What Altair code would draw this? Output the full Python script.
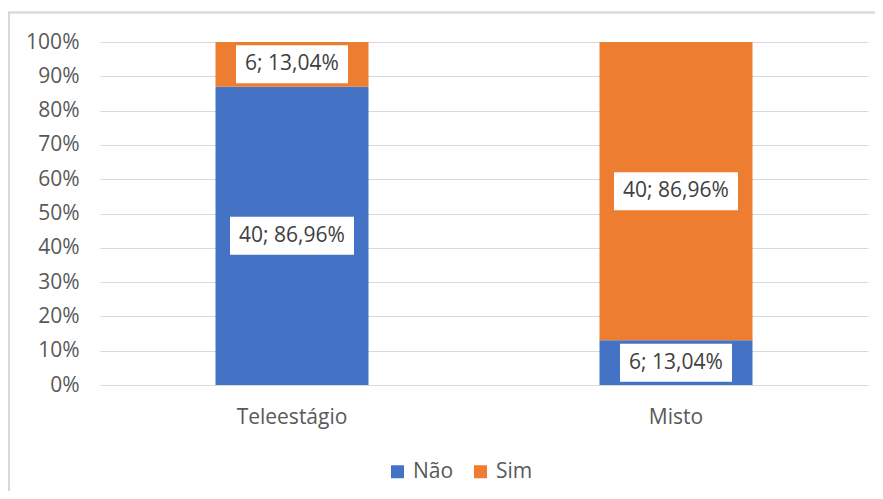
import altair as alt
import pandas as pd

categories = ["Teleestágio", "Misto"]
nao_counts = [40, 6]
sim_counts = [6, 40]
series = ["Não", "Sim"]
colors = ["#4472c4", "#ed7d31"]

rows = []
for cat, n, s in zip(categories, nao_counts, sim_counts):
    total = n + s
    lo = 0.0
    for name, c in zip(series, [n, s]):
        frac = c / total
        label = f"{c}; {frac*100:.2f}%".replace(".", ",")
        w = 12 * len(label) + 4
        hx = (w / 2) / 62
        hy = 19 / 62
        path = f"M{-hx},{-hy}L{hx},{-hy}L{hx},{hy}L{-hx},{hy}Z"
        rows.append({"cat": cat, "serie": name, "lo": lo, "hi": lo + frac,
                     "mid": lo + frac / 2, "label": label, "box": path})
        lo += frac
df = pd.DataFrame(rows)

FONT = "Open Sans"
FS = 21

yscale = alt.Scale(domain=[0, 1], nice=False)
xscale = alt.Scale(paddingInner=0, paddingOuter=0)

xaxis = alt.Axis(labelAngle=0, labelFontSize=FS, labelColor="#595959",
                 labelFont=FONT, ticks=False, domain=False,
                 labelPadding=38, labelBaseline="alphabetic")
yaxis = alt.Axis(format="%", tickCount=10, labelOverlap=False,
                 labelFontSize=FS, labelColor="#595959", labelFont=FONT,
                 ticks=False, domain=False, labelPadding=21,
                 gridColor="#d9d9d9", gridWidth=1)

bars = alt.Chart(df).mark_bar(size=153).encode(
    x=alt.X("cat:N", sort=categories, title=None, scale=xscale, axis=xaxis),
    y=alt.Y("lo:Q", scale=yscale, title=None, axis=yaxis),
    y2="hi:Q",
    color=alt.Color("serie:N", scale=alt.Scale(domain=series, range=colors), title=None,
                    legend=alt.Legend(orient="none", legendX=287, legendY=419,
                                      direction="horizontal", symbolType="square",
                                      symbolSize=169, symbolStrokeWidth=0,
                                      labelFontSize=FS, labelColor="#595959",
                                      labelFont=FONT, labelOffset=5, columnPadding=16,
                                      padding=0)),
)

boxes = alt.Chart(df).mark_point(filled=True, fill="white", opacity=1, strokeWidth=0,
                                 size=15376).encode(
    x=alt.X("cat:N", sort=categories, title=None, scale=xscale, axis=xaxis),
    y=alt.Y("mid:Q", scale=yscale, title=None, axis=yaxis),
    shape=alt.Shape("box:N", scale=None),
)

texts = alt.Chart(df).mark_text(fontSize=FS, color="#404040", font=FONT,
                                baseline="middle", align="center").encode(
    x=alt.X("cat:N", sort=categories, title=None, scale=xscale, axis=xaxis),
    y=alt.Y("mid:Q", scale=yscale, title=None, axis=yaxis),
    text="label:N",
)

border_left = alt.Chart(df).mark_rule(color="#d9d9d9", strokeWidth=1.5).encode(
    x=alt.value(-91), y=alt.value(-30), y2=alt.value(460))
border_top = alt.Chart(df).mark_rule(color="#d9d9d9", strokeWidth=1.5).encode(
    x=alt.value(-92), x2=alt.value(780), y=alt.value(-29.5))

chart = alt.layer(bars, boxes, texts, border_left, border_top).properties(
    width=768, height=343,
    autosize=alt.AutoSizeParams(type="none"),
    padding={"left": 92, "top": 34, "right": 7, "bottom": 106},
    background="white",
).configure_view(stroke=None)

chart.save("out.html", embed_options={"renderer": "svg", "actions": False})
